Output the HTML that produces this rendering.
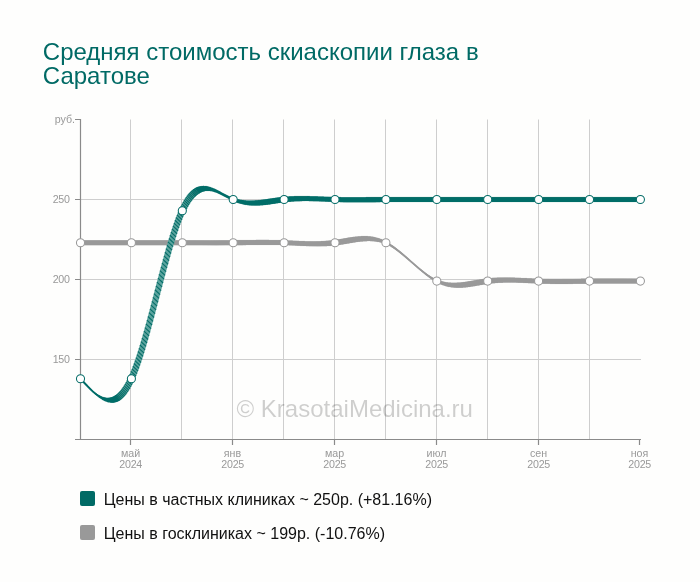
<!DOCTYPE html>
<html lang="ru"><head><meta charset="utf-8"><title>Средняя стоимость скиаскопии глаза в Саратове</title>
<style>
html,body{margin:0;padding:0;background:#fefefd;}
body{width:700px;height:582px;overflow:hidden;position:relative;font-family:"Liberation Sans",sans-serif;}
svg{position:absolute;left:0;top:0;display:block}
text{font-family:"Liberation Sans",sans-serif}
.t{font-size:24px;fill:#006a65}
.l{font-size:10.67px;fill:#999999}
.n{letter-spacing:-0.28px}
.lg{font-size:16px;fill:#111}
.wm{font-size:24px;fill:#000;fill-opacity:0.19}
</style></head><body>
<svg width="700" height="582" viewBox="0 0 700 582">
<defs><filter id="sf" x="0" y="0" width="700" height="582" filterUnits="userSpaceOnUse"><feGaussianBlur stdDeviation="0.3"/></filter></defs>
<rect width="700" height="582" fill="#fefefd"/>

<text class="t" x="42.8" y="59.6">Средняя стоимость скиаскопии глаза в</text>
<text class="t" x="42.8" y="83.6">Саратове</text>
<path d="M130.5,119.5V439.5M181.5,119.5V439.5M232.5,119.5V439.5M283.5,119.5V439.5M334.5,119.5V439.5M385.5,119.5V439.5M436.5,119.5V439.5M487.5,119.5V439.5M538.5,119.5V439.5M589.5,119.5V439.5M80.5,199.5H641.0M80.5,279.5H641.0M80.5,359.5H641.0" stroke="#cecece" stroke-width="1" fill="none"/>
<text class="wm" x="236.5" y="416.5">© KrasotaiMedicina.ru</text>
<path d="M80.5,119.0V440.0M75.0,439.5H641.0M75.0,119.5H80.5M75.0,199.5H80.5M75.0,279.5H80.5M75.0,359.5H80.5M130.5,439.5V445.0M232.5,439.5V445.0M334.5,439.5V445.0M436.5,439.5V445.0M538.5,439.5V445.0M639.5,439.5V445.0" stroke="#8a8a8a" stroke-width="1.2" fill="none"/>
<text class="l" x="75.1" y="123.4" text-anchor="end">руб.</text>
<text class="l n" x="69.6" y="203.3" text-anchor="end">250</text>
<text class="l n" x="69.6" y="283.3" text-anchor="end">200</text>
<text class="l n" x="69.6" y="363.3" text-anchor="end">150</text>
<text class="l" x="130.5" y="456.6" text-anchor="middle">май</text>
<text class="l n" x="130.65" y="468.2" text-anchor="middle">2024</text>
<text class="l" x="232.5" y="456.6" text-anchor="middle">янв</text>
<text class="l n" x="232.65" y="468.2" text-anchor="middle">2025</text>
<text class="l" x="334.5" y="456.6" text-anchor="middle">мар</text>
<text class="l n" x="334.65" y="468.2" text-anchor="middle">2025</text>
<text class="l" x="436.5" y="456.6" text-anchor="middle">июл</text>
<text class="l n" x="436.65" y="468.2" text-anchor="middle">2025</text>
<text class="l" x="538.5" y="456.6" text-anchor="middle">сен</text>
<text class="l n" x="538.65" y="468.2" text-anchor="middle">2025</text>
<text class="l" x="639.5" y="456.6" text-anchor="middle">ноя</text>
<text class="l n" x="639.65" y="468.2" text-anchor="middle">2025</text>
<g filter="url(#sf)">
<path d="M83.1,245.1C100.07,245.11 117.03,245.11 134,245.1C150.97,245.09 167.93,245.06 184.9,245.1C201.87,245.14 218.83,245.26 235.8,245.1C252.77,244.94 269.73,244.52 286.7,245.1C303.67,245.68 320.63,247.27 337.6,245.1C354.57,242.93 371.53,236.99 388.5,245.1C405.47,253.21 422.43,275.38 439.4,283.5C456.37,291.62 473.33,285.68 490.3,283.5C507.27,281.32 524.23,282.91 541.2,283.5C558.17,284.09 575.13,283.67 592.1,283.5C609.07,283.33 626.03,283.42 643,283.5L637.8,278.7C620.83,278.62 603.87,278.53 586.9,278.7C569.93,278.87 552.97,279.29 536,278.7C519.03,278.11 502.07,276.52 485.1,278.7C468.13,280.88 451.17,286.82 434.2,278.7C417.23,270.58 400.27,248.41 383.3,240.3C366.33,232.19 349.37,238.13 332.4,240.3C315.43,242.47 298.47,240.88 281.5,240.3C264.53,239.72 247.57,240.14 230.6,240.3C213.63,240.46 196.67,240.34 179.7,240.3C162.73,240.26 145.77,240.29 128.8,240.3C111.83,240.31 94.87,240.31 77.9,240.3Z" fill="#c4c4c4" fill-rule="nonzero"/>
<path d="M77.9,240.3l5.2,4.8M78.9,240.3l5.2,4.8M79.9,240.3l5.2,4.8M80.9,240.3l5.2,4.8M81.9,240.3l5.2,4.8M82.9,240.3l5.2,4.8M83.9,240.3l5.2,4.8M84.9,240.3l5.2,4.8M85.9,240.3l5.2,4.8M86.9,240.3l5.2,4.8M87.9,240.3l5.2,4.8M88.9,240.3l5.2,4.8M89.9,240.3l5.2,4.8M90.9,240.3l5.2,4.8M91.9,240.3l5.2,4.8M92.9,240.3l5.2,4.8M93.9,240.31l5.2,4.8M94.9,240.31l5.2,4.8M95.9,240.31l5.2,4.8M96.9,240.31l5.2,4.8M97.9,240.31l5.2,4.8M98.9,240.31l5.2,4.8M99.9,240.31l5.2,4.8M100.9,240.31l5.2,4.8M101.9,240.31l5.2,4.8M102.9,240.31l5.2,4.8M103.9,240.31l5.2,4.8M104.9,240.31l5.2,4.8M105.9,240.31l5.2,4.8M106.9,240.31l5.2,4.8M107.9,240.31l5.2,4.8M108.9,240.31l5.2,4.8M109.9,240.31l5.2,4.8M110.9,240.31l5.2,4.8M111.9,240.31l5.2,4.8M112.9,240.31l5.2,4.8M113.9,240.31l5.2,4.8M114.9,240.31l5.2,4.8M115.9,240.31l5.2,4.8M116.9,240.31l5.2,4.8M117.9,240.31l5.2,4.8M118.9,240.31l5.2,4.8M119.9,240.3l5.2,4.8M120.9,240.3l5.2,4.8M121.9,240.3l5.2,4.8M122.9,240.3l5.2,4.8M123.9,240.3l5.2,4.8M124.9,240.3l5.2,4.8M125.9,240.3l5.2,4.8M126.9,240.3l5.2,4.8M127.9,240.3l5.2,4.8M128.9,240.3l5.2,4.8M129.9,240.3l5.2,4.8M130.9,240.3l5.2,4.8M131.9,240.3l5.2,4.8M132.9,240.3l5.2,4.8M133.9,240.3l5.2,4.8M134.9,240.3l5.2,4.8M135.9,240.29l5.2,4.8M136.9,240.29l5.2,4.8M137.9,240.29l5.2,4.8M138.9,240.29l5.2,4.8M139.9,240.29l5.2,4.8M140.9,240.29l5.2,4.8M141.9,240.29l5.2,4.8M142.9,240.29l5.2,4.8M143.9,240.29l5.2,4.8M144.9,240.29l5.2,4.8M145.9,240.29l5.2,4.8M146.9,240.28l5.2,4.8M147.9,240.28l5.2,4.8M148.9,240.28l5.2,4.8M149.9,240.28l5.2,4.8M150.9,240.28l5.2,4.8M151.9,240.28l5.2,4.8M152.9,240.28l5.2,4.8M153.9,240.28l5.2,4.8M154.9,240.28l5.2,4.8M155.9,240.28l5.2,4.8M156.9,240.28l5.2,4.8M157.9,240.28l5.2,4.8M158.9,240.28l5.2,4.8M159.9,240.28l5.2,4.8M160.9,240.28l5.2,4.8M161.9,240.28l5.2,4.8M162.9,240.28l5.2,4.8M163.9,240.28l5.2,4.8M164.9,240.28l5.2,4.8M165.9,240.28l5.2,4.8M166.9,240.28l5.2,4.8M167.9,240.28l5.2,4.8M168.9,240.28l5.2,4.8M169.9,240.28l5.2,4.8M170.9,240.28l5.2,4.8M171.9,240.29l5.2,4.8M172.9,240.29l5.2,4.8M173.9,240.29l5.2,4.8M174.9,240.29l5.2,4.8M175.9,240.29l5.2,4.8M176.9,240.29l5.2,4.8M177.9,240.3l5.2,4.8M178.9,240.3l5.2,4.8M179.9,240.3l5.2,4.8M180.9,240.3l5.2,4.8M181.9,240.31l5.2,4.8M182.9,240.31l5.2,4.8M183.9,240.31l5.2,4.8M184.9,240.31l5.2,4.8M185.9,240.32l5.2,4.8M186.9,240.32l5.2,4.8M187.9,240.32l5.2,4.8M188.9,240.33l5.2,4.8M189.9,240.33l5.2,4.8M190.9,240.33l5.2,4.8M191.9,240.34l5.2,4.8M192.9,240.34l5.2,4.8M193.9,240.34l5.2,4.8M194.9,240.35l5.2,4.8M195.9,240.35l5.2,4.8M196.9,240.35l5.2,4.8M197.9,240.36l5.2,4.8M198.9,240.36l5.2,4.8M199.9,240.36l5.2,4.8M200.9,240.37l5.2,4.8M201.9,240.37l5.2,4.8M202.9,240.37l5.2,4.8M203.9,240.37l5.2,4.8M204.9,240.37l5.2,4.8M205.9,240.38l5.2,4.8M206.9,240.38l5.2,4.8M207.9,240.38l5.2,4.8M208.9,240.38l5.2,4.8M209.9,240.38l5.2,4.8M210.9,240.38l5.2,4.8M211.9,240.38l5.2,4.8M212.9,240.38l5.2,4.8M213.9,240.38l5.2,4.8M214.9,240.38l5.2,4.8M215.9,240.38l5.2,4.8M216.9,240.37l5.2,4.8M217.9,240.37l5.2,4.8M218.9,240.37l5.2,4.8M219.9,240.37l5.2,4.8M220.9,240.36l5.2,4.8M221.9,240.36l5.2,4.8M222.9,240.35l5.2,4.8M223.9,240.35l5.2,4.8M224.9,240.34l5.2,4.8M225.9,240.34l5.2,4.8M226.9,240.33l5.2,4.8M227.9,240.32l5.2,4.8M228.9,240.31l5.2,4.8M229.9,240.31l5.2,4.8M230.9,240.3l5.2,4.8M231.9,240.29l5.2,4.8M232.9,240.28l5.2,4.8M233.9,240.27l5.2,4.8M234.9,240.26l5.2,4.8M235.9,240.24l5.2,4.8M236.9,240.23l5.2,4.8M237.9,240.22l5.2,4.8M238.9,240.21l5.2,4.8M239.9,240.2l5.2,4.8M240.9,240.18l5.2,4.8M241.9,240.17l5.2,4.8M242.9,240.16l5.2,4.8M243.9,240.15l5.2,4.8M244.9,240.13l5.2,4.8M245.9,240.12l5.2,4.8M246.9,240.11l5.2,4.8M247.9,240.1l5.2,4.8M248.9,240.09l5.2,4.8M249.9,240.08l5.2,4.8M250.9,240.07l5.2,4.8M251.9,240.06l5.2,4.8M252.9,240.05l5.2,4.8M253.9,240.04l5.2,4.8M254.9,240.03l5.2,4.8M255.9,240.02l5.2,4.8M256.9,240.02l5.2,4.8M257.9,240.01l5.2,4.8M258.9,240.01l5.2,4.8M259.9,240.01l5.2,4.8M260.9,240l5.2,4.8M261.9,240l5.2,4.8M262.9,240l5.2,4.8M263.9,240l5.2,4.8M264.9,240.01l5.2,4.8M265.9,240.01l5.2,4.8M266.9,240.02l5.2,4.8M267.9,240.02l5.2,4.8M268.9,240.03l5.2,4.8M269.9,240.04l5.2,4.8M270.9,240.06l5.2,4.8M271.9,240.07l5.2,4.8M272.9,240.08l5.2,4.8M273.9,240.1l5.2,4.8M274.9,240.12l5.2,4.8M275.9,240.14l5.2,4.8M276.9,240.17l5.2,4.8M277.9,240.19l5.2,4.8M278.9,240.22l5.2,4.8M279.9,240.25l5.2,4.8M280.9,240.28l5.2,4.8M281.9,240.31l5.2,4.8M282.9,240.35l5.2,4.8M283.9,240.39l5.2,4.8M284.9,240.43l5.2,4.8M285.9,240.47l5.2,4.8M286.9,240.51l5.2,4.8M287.9,240.56l5.2,4.8M288.9,240.6l5.2,4.8M289.9,240.65l5.2,4.8M290.9,240.7l5.2,4.8M291.9,240.74l5.2,4.8M292.9,240.79l5.2,4.8M293.9,240.84l5.2,4.8M294.9,240.88l5.2,4.8M295.9,240.93l5.2,4.8M296.9,240.97l5.2,4.8M297.9,241.02l5.2,4.8M298.9,241.06l5.2,4.8M299.9,241.1l5.2,4.8M300.9,241.14l5.2,4.8M301.9,241.18l5.2,4.8M302.9,241.22l5.2,4.8M303.9,241.25l5.2,4.8M304.9,241.28l5.2,4.8M305.9,241.31l5.2,4.8M306.9,241.33l5.2,4.8M307.9,241.35l5.2,4.8M308.9,241.37l5.2,4.8M309.9,241.39l5.2,4.8M310.9,241.4l5.2,4.8M311.9,241.41l5.2,4.8M312.9,241.41l5.2,4.8M313.9,241.41l5.2,4.8M314.9,241.4l5.2,4.8M315.9,241.39l5.2,4.8M316.9,241.37l5.2,4.8M317.9,241.35l5.2,4.8M318.9,241.32l5.2,4.8M319.9,241.29l5.2,4.8M320.9,241.25l5.2,4.8M321.9,241.21l5.2,4.8M322.9,241.15l5.2,4.8M323.9,241.1l5.2,4.8M324.9,241.03l5.2,4.8M325.9,240.96l5.2,4.8M326.9,240.88l5.2,4.8M327.9,240.79l5.2,4.8M328.9,240.7l5.2,4.8M329.9,240.59l5.2,4.8M330.9,240.48l5.2,4.8M331.9,240.36l5.2,4.8M332.9,240.23l5.2,4.8M333.9,240.1l5.2,4.8M334.9,239.95l5.2,4.8M335.9,239.8l5.2,4.8M336.9,239.65l5.2,4.8M337.9,239.49l5.2,4.8M338.9,239.32l5.2,4.8M339.9,239.15l5.2,4.8M340.9,238.98l5.2,4.8M341.9,238.8l5.2,4.8M342.9,238.63l5.2,4.8M343.9,238.46l5.2,4.8M344.9,238.28l5.2,4.8M345.9,238.11l5.2,4.8M346.9,237.94l5.2,4.8M347.9,237.77l5.2,4.8M348.9,237.61l5.2,4.8M349.9,237.45l5.2,4.8M350.9,237.29l5.2,4.8M351.9,237.14l5.2,4.8M352.9,237l5.2,4.8M353.9,236.87l5.2,4.8M354.9,236.75l5.2,4.8M355.9,236.63l5.2,4.8M356.9,236.53l5.2,4.8M357.9,236.44l5.2,4.8M358.9,236.36l5.2,4.8M359.9,236.29l5.2,4.8M360.9,236.23l5.2,4.8M361.9,236.19l5.2,4.8M362.9,236.17l5.2,4.8M363.9,236.16l5.2,4.8M364.9,236.17l5.2,4.8M365.9,236.19l5.2,4.8M366.9,236.24l5.2,4.8M367.9,236.3l5.2,4.8M368.9,236.38l5.2,4.8M369.9,236.49l5.2,4.8M370.9,236.61l5.2,4.8M371.9,236.76l5.2,4.8M372.9,236.93l5.2,4.8M373.9,237.13l5.2,4.8M374.9,237.35l5.2,4.8M375.9,237.6l5.2,4.8M376.9,237.87l5.2,4.8M377.9,238.17l5.2,4.8M378.9,238.5l5.2,4.8M379.9,238.86l5.2,4.8M380.9,239.24l5.2,4.8M381.9,239.66l5.2,4.8M382.9,240.11l5.2,4.8M383.9,240.59l5.2,4.8M384.9,241.11l5.2,4.8M385.9,241.65l5.2,4.8M386.9,242.22l5.2,4.8M387.9,242.82l5.2,4.8M388.9,243.45l5.2,4.8M389.9,244.1l5.2,4.8M390.9,244.78l5.2,4.8M391.9,245.48l5.2,4.8M392.9,246.2l5.2,4.8M393.9,246.94l5.2,4.8M394.9,247.71l5.2,4.8M395.9,248.48l5.2,4.8M396.9,249.28l5.2,4.8M397.9,250.09l5.2,4.8M398.9,250.91l5.2,4.8M399.9,251.75l5.2,4.8M400.9,252.6l5.2,4.8M401.9,253.45l5.2,4.8M402.9,254.32l5.2,4.8M403.9,255.2l5.2,4.8M404.9,256.08l5.2,4.8M405.9,256.96l5.2,4.8M406.9,257.85l5.2,4.8M407.9,258.74l5.2,4.8M408.9,259.63l5.2,4.8M409.9,260.53l5.2,4.8M410.9,261.42l5.2,4.8M411.9,262.3l5.2,4.8M412.9,263.19l5.2,4.8M413.9,264.07l5.2,4.8M414.9,264.94l5.2,4.8M415.9,265.8l5.2,4.8M416.9,266.66l5.2,4.8M417.9,267.5l5.2,4.8M418.9,268.34l5.2,4.8M419.9,269.16l5.2,4.8M420.9,269.96l5.2,4.8M421.9,270.75l5.2,4.8M422.9,271.52l5.2,4.8M423.9,272.28l5.2,4.8M424.9,273.02l5.2,4.8M425.9,273.73l5.2,4.8M426.9,274.42l5.2,4.8M427.9,275.09l5.2,4.8M428.9,275.74l5.2,4.8M429.9,276.36l5.2,4.8M430.9,276.95l5.2,4.8M431.9,277.52l5.2,4.8M432.9,278.05l5.2,4.8M433.9,278.56l5.2,4.8M434.9,279.03l5.2,4.8M435.9,279.47l5.2,4.8M436.9,279.88l5.2,4.8M437.9,280.25l5.2,4.8M438.9,280.6l5.2,4.8M439.9,280.92l5.2,4.8M440.9,281.21l5.2,4.8M441.9,281.48l5.2,4.8M442.9,281.72l5.2,4.8M443.9,281.93l5.2,4.8M444.9,282.12l5.2,4.8M445.9,282.28l5.2,4.8M446.9,282.43l5.2,4.8M447.9,282.55l5.2,4.8M448.9,282.64l5.2,4.8M449.9,282.72l5.2,4.8M450.9,282.78l5.2,4.8M451.9,282.82l5.2,4.8M452.9,282.84l5.2,4.8M453.9,282.84l5.2,4.8M454.9,282.83l5.2,4.8M455.9,282.8l5.2,4.8M456.9,282.75l5.2,4.8M457.9,282.69l5.2,4.8M458.9,282.62l5.2,4.8M459.9,282.54l5.2,4.8M460.9,282.44l5.2,4.8M461.9,282.33l5.2,4.8M462.9,282.22l5.2,4.8M463.9,282.09l5.2,4.8M464.9,281.95l5.2,4.8M465.9,281.81l5.2,4.8M466.9,281.66l5.2,4.8M467.9,281.51l5.2,4.8M468.9,281.35l5.2,4.8M469.9,281.18l5.2,4.8M470.9,281.01l5.2,4.8M471.9,280.84l5.2,4.8M472.9,280.67l5.2,4.8M473.9,280.49l5.2,4.8M474.9,280.32l5.2,4.8M475.9,280.14l5.2,4.8M476.9,279.97l5.2,4.8M477.9,279.8l5.2,4.8M478.9,279.63l5.2,4.8M479.9,279.47l5.2,4.8M480.9,279.31l5.2,4.8M481.9,279.15l5.2,4.8M482.9,279l5.2,4.8M483.9,278.86l5.2,4.8M484.9,278.73l5.2,4.8M485.9,278.6l5.2,4.8M486.9,278.48l5.2,4.8M487.9,278.37l5.2,4.8M488.9,278.27l5.2,4.8M489.9,278.18l5.2,4.8M490.9,278.1l5.2,4.8M491.9,278.02l5.2,4.8M492.9,277.95l5.2,4.8M493.9,277.88l5.2,4.8M494.9,277.83l5.2,4.8M495.9,277.78l5.2,4.8M496.9,277.73l5.2,4.8M497.9,277.7l5.2,4.8M498.9,277.67l5.2,4.8M499.9,277.64l5.2,4.8M500.9,277.62l5.2,4.8M501.9,277.61l5.2,4.8M502.9,277.6l5.2,4.8M503.9,277.59l5.2,4.8M504.9,277.59l5.2,4.8M505.9,277.59l5.2,4.8M506.9,277.6l5.2,4.8M507.9,277.61l5.2,4.8M508.9,277.63l5.2,4.8M509.9,277.65l5.2,4.8M510.9,277.67l5.2,4.8M511.9,277.7l5.2,4.8M512.9,277.73l5.2,4.8M513.9,277.76l5.2,4.8M514.9,277.79l5.2,4.8M515.9,277.83l5.2,4.8M516.9,277.87l5.2,4.8M517.9,277.91l5.2,4.8M518.9,277.95l5.2,4.8M519.9,277.99l5.2,4.8M520.9,278.04l5.2,4.8M521.9,278.08l5.2,4.8M522.9,278.13l5.2,4.8M523.9,278.18l5.2,4.8M524.9,278.22l5.2,4.8M525.9,278.27l5.2,4.8M526.9,278.32l5.2,4.8M527.9,278.36l5.2,4.8M528.9,278.41l5.2,4.8M529.9,278.45l5.2,4.8M530.9,278.5l5.2,4.8M531.9,278.54l5.2,4.8M532.9,278.58l5.2,4.8M533.9,278.62l5.2,4.8M534.9,278.66l5.2,4.8M535.9,278.7l5.2,4.8M536.9,278.73l5.2,4.8M537.9,278.76l5.2,4.8M538.9,278.79l5.2,4.8M539.9,278.82l5.2,4.8M540.9,278.84l5.2,4.8M541.9,278.87l5.2,4.8M542.9,278.89l5.2,4.8M543.9,278.9l5.2,4.8M544.9,278.92l5.2,4.8M545.9,278.94l5.2,4.8M546.9,278.95l5.2,4.8M547.9,278.96l5.2,4.8M548.9,278.97l5.2,4.8M549.9,278.98l5.2,4.8M550.9,278.99l5.2,4.8M551.9,278.99l5.2,4.8M552.9,279l5.2,4.8M553.9,279l5.2,4.8M554.9,279l5.2,4.8M555.9,279l5.2,4.8M556.9,279l5.2,4.8M557.9,279l5.2,4.8M558.9,279l5.2,4.8M559.9,278.99l5.2,4.8M560.9,278.99l5.2,4.8M561.9,278.98l5.2,4.8M562.9,278.97l5.2,4.8M563.9,278.96l5.2,4.8M564.9,278.96l5.2,4.8M565.9,278.95l5.2,4.8M566.9,278.94l5.2,4.8M567.9,278.93l5.2,4.8M568.9,278.92l5.2,4.8M569.9,278.9l5.2,4.8M570.9,278.89l5.2,4.8M571.9,278.88l5.2,4.8M572.9,278.87l5.2,4.8M573.9,278.86l5.2,4.8M574.9,278.84l5.2,4.8M575.9,278.83l5.2,4.8M576.9,278.82l5.2,4.8M577.9,278.81l5.2,4.8M578.9,278.79l5.2,4.8M579.9,278.78l5.2,4.8M580.9,278.77l5.2,4.8M581.9,278.76l5.2,4.8M582.9,278.74l5.2,4.8M583.9,278.73l5.2,4.8M584.9,278.72l5.2,4.8M585.9,278.71l5.2,4.8M586.9,278.7l5.2,4.8M587.9,278.69l5.2,4.8M588.9,278.68l5.2,4.8M589.9,278.67l5.2,4.8M590.9,278.67l5.2,4.8M591.9,278.66l5.2,4.8M592.9,278.65l5.2,4.8M593.9,278.64l5.2,4.8M594.9,278.64l5.2,4.8M595.9,278.63l5.2,4.8M596.9,278.63l5.2,4.8M597.9,278.62l5.2,4.8M598.9,278.62l5.2,4.8M599.9,278.62l5.2,4.8M600.9,278.61l5.2,4.8M601.9,278.61l5.2,4.8M602.9,278.61l5.2,4.8M603.9,278.61l5.2,4.8M604.9,278.61l5.2,4.8M605.9,278.6l5.2,4.8M606.9,278.6l5.2,4.8M607.9,278.6l5.2,4.8M608.9,278.6l5.2,4.8M609.9,278.6l5.2,4.8M610.9,278.6l5.2,4.8M611.9,278.61l5.2,4.8M612.9,278.61l5.2,4.8M613.9,278.61l5.2,4.8M614.9,278.61l5.2,4.8M615.9,278.61l5.2,4.8M616.9,278.61l5.2,4.8M617.9,278.62l5.2,4.8M618.9,278.62l5.2,4.8M619.9,278.62l5.2,4.8M620.9,278.63l5.2,4.8M621.9,278.63l5.2,4.8M622.9,278.63l5.2,4.8M623.9,278.64l5.2,4.8M624.9,278.64l5.2,4.8M625.9,278.64l5.2,4.8M626.9,278.65l5.2,4.8M627.9,278.65l5.2,4.8M628.9,278.66l5.2,4.8M629.9,278.66l5.2,4.8M630.9,278.67l5.2,4.8M631.9,278.67l5.2,4.8M632.9,278.68l5.2,4.8M633.9,278.68l5.2,4.8M634.9,278.69l5.2,4.8M635.9,278.69l5.2,4.8M636.9,278.7l5.2,4.8" stroke="#999999" stroke-width="1.1" fill="none"/>
<path d="M385.9,242.7C402.87,250.81 419.83,272.98 436.8,281.1" stroke="#999999" stroke-width="1.9" fill="none"/>
</g>
<circle cx="80.5" cy="242.7" r="4.05" fill="#ffffff" stroke="#999999" stroke-width="1.05"/>
<circle cx="131.4" cy="242.7" r="4.05" fill="#ffffff" stroke="#999999" stroke-width="1.05"/>
<circle cx="182.3" cy="242.7" r="4.05" fill="#ffffff" stroke="#999999" stroke-width="1.05"/>
<circle cx="233.2" cy="242.7" r="4.05" fill="#ffffff" stroke="#999999" stroke-width="1.05"/>
<circle cx="284.1" cy="242.7" r="4.05" fill="#ffffff" stroke="#999999" stroke-width="1.05"/>
<circle cx="335" cy="242.7" r="4.05" fill="#ffffff" stroke="#999999" stroke-width="1.05"/>
<circle cx="385.9" cy="242.7" r="4.05" fill="#ffffff" stroke="#999999" stroke-width="1.05"/>
<circle cx="436.8" cy="281.1" r="4.05" fill="#ffffff" stroke="#999999" stroke-width="1.05"/>
<circle cx="487.7" cy="281.1" r="4.05" fill="#ffffff" stroke="#999999" stroke-width="1.05"/>
<circle cx="538.6" cy="281.1" r="4.05" fill="#ffffff" stroke="#999999" stroke-width="1.05"/>
<circle cx="589.5" cy="281.1" r="4.05" fill="#ffffff" stroke="#999999" stroke-width="1.05"/>
<circle cx="640.4" cy="281.1" r="4.05" fill="#ffffff" stroke="#999999" stroke-width="1.05"/>
<g filter="url(#sf)">
<path d="M83.1,381.1C100.07,399.79 117.03,418.47 134,381.1C150.97,343.73 167.93,250.3 184.9,213.1C201.87,175.9 218.83,194.93 235.8,201.9C252.77,208.87 269.73,203.77 286.7,201.9C303.67,200.03 320.63,201.4 337.6,201.9C354.57,202.4 371.53,202.03 388.5,201.9C405.47,201.77 422.43,201.86 439.4,201.9C456.37,201.94 473.33,201.91 490.3,201.9C507.27,201.89 524.23,201.9 541.2,201.9C558.17,201.9 575.13,201.9 592.1,201.9C609.07,201.9 626.03,201.9 643,201.9L637.8,197.1C620.83,197.1 603.87,197.1 586.9,197.1C569.93,197.1 552.97,197.1 536,197.1C519.03,197.1 502.07,197.09 485.1,197.1C468.13,197.11 451.17,197.14 434.2,197.1C417.23,197.06 400.27,196.97 383.3,197.1C366.33,197.23 349.37,197.6 332.4,197.1C315.43,196.6 298.47,195.23 281.5,197.1C264.53,198.97 247.57,204.07 230.6,197.1C213.63,190.13 196.67,171.1 179.7,208.3C162.73,245.5 145.77,338.93 128.8,376.3C111.83,413.67 94.87,394.99 77.9,376.3Z" fill="#5ca49e" fill-rule="nonzero"/>
<path d="M77.9,376.3l5.2,4.8M78.9,377.4l5.2,4.8M79.9,378.5l5.2,4.8M80.9,379.59l5.2,4.8M81.9,380.68l5.2,4.8M82.9,381.75l5.2,4.8M83.9,382.82l5.2,4.8M84.9,383.86l5.2,4.8M85.9,384.89l5.2,4.8M86.9,385.9l5.2,4.8M87.9,386.89l5.2,4.8M88.9,387.85l5.2,4.8M89.9,388.78l5.2,4.8M90.9,389.68l5.2,4.8M91.9,390.55l5.2,4.8M92.9,391.39l5.2,4.8M93.9,392.18l5.2,4.8M94.9,392.93l5.2,4.8M95.9,393.64l5.2,4.8M96.9,394.31l5.2,4.8M97.9,394.93l5.2,4.8M98.9,395.49l5.2,4.8M99.9,396l5.2,4.8M100.9,396.46l5.2,4.8M101.9,396.86l5.2,4.8M102.9,397.19l5.2,4.8M103.9,397.46l5.2,4.8M104.9,397.67l5.2,4.8M105.9,397.81l5.2,4.8M106.9,397.87l5.2,4.8M107.9,397.86l5.2,4.8M108.9,397.78l5.2,4.8M109.9,397.61l5.2,4.8M110.9,397.37l5.2,4.8M111.9,397.04l5.2,4.8M112.9,396.62l5.2,4.8M113.9,396.11l5.2,4.8M114.9,395.52l5.2,4.8M115.9,394.82l5.2,4.8M116.9,394.04l5.2,4.8M117.9,393.15l5.2,4.8M118.9,392.16l5.2,4.8M119.9,391.06l5.2,4.8M120.9,389.86l5.2,4.8M121.9,388.55l5.2,4.8M122.9,387.12l5.2,4.8M123.9,385.58l5.2,4.8M124.9,383.93l5.2,4.8M125.9,382.15l5.2,4.8M126.9,380.25l5.2,4.8M127.9,378.23l5.2,4.8M128.9,376.08l5.2,4.8M129.9,373.8l5.2,4.8M130.9,371.4l5.2,4.8M131.9,368.87l5.2,4.8M132.9,366.24l5.2,4.8M133.9,363.49l5.2,4.8M134.9,360.64l5.2,4.8M135.9,357.69l5.2,4.8M136.9,354.65l5.2,4.8M137.9,351.52l5.2,4.8M138.9,348.31l5.2,4.8M139.9,345.02l5.2,4.8M140.9,341.65l5.2,4.8M141.9,338.22l5.2,4.8M142.9,334.72l5.2,4.8M143.9,331.17l5.2,4.8M144.9,327.56l5.2,4.8M145.9,323.91l5.2,4.8M146.9,320.22l5.2,4.8M147.9,316.48l5.2,4.8M148.9,312.72l5.2,4.8M149.9,308.92l5.2,4.8M150.9,305.11l5.2,4.8M151.9,301.28l5.2,4.8M152.9,297.43l5.2,4.8M153.9,293.58l5.2,4.8M154.9,289.73l5.2,4.8M155.9,285.88l5.2,4.8M156.9,282.04l5.2,4.8M157.9,278.22l5.2,4.8M158.9,274.41l5.2,4.8M159.9,270.63l5.2,4.8M160.9,266.87l5.2,4.8M161.9,263.15l5.2,4.8M162.9,259.47l5.2,4.8M163.9,255.84l5.2,4.8M164.9,252.25l5.2,4.8M165.9,248.72l5.2,4.8M166.9,245.25l5.2,4.8M167.9,241.84l5.2,4.8M168.9,238.5l5.2,4.8M169.9,235.24l5.2,4.8M170.9,232.06l5.2,4.8M171.9,228.96l5.2,4.8M172.9,225.95l5.2,4.8M173.9,223.04l5.2,4.8M174.9,220.23l5.2,4.8M175.9,217.52l5.2,4.8M176.9,214.93l5.2,4.8M177.9,212.45l5.2,4.8M178.9,210.1l5.2,4.8M179.9,207.86l5.2,4.8M180.9,205.76l5.2,4.8M181.9,203.79l5.2,4.8M182.9,201.93l5.2,4.8M183.9,200.2l5.2,4.8M184.9,198.59l5.2,4.8M185.9,197.09l5.2,4.8M186.9,195.7l5.2,4.8M187.9,194.41l5.2,4.8M188.9,193.24l5.2,4.8M189.9,192.16l5.2,4.8M190.9,191.18l5.2,4.8M191.9,190.3l5.2,4.8M192.9,189.51l5.2,4.8M193.9,188.81l5.2,4.8M194.9,188.2l5.2,4.8M195.9,187.67l5.2,4.8M196.9,187.22l5.2,4.8M197.9,186.84l5.2,4.8M198.9,186.54l5.2,4.8M199.9,186.31l5.2,4.8M200.9,186.15l5.2,4.8M201.9,186.05l5.2,4.8M202.9,186.01l5.2,4.8M203.9,186.03l5.2,4.8M204.9,186.11l5.2,4.8M205.9,186.24l5.2,4.8M206.9,186.42l5.2,4.8M207.9,186.64l5.2,4.8M208.9,186.9l5.2,4.8M209.9,187.21l5.2,4.8M210.9,187.55l5.2,4.8M211.9,187.92l5.2,4.8M212.9,188.33l5.2,4.8M213.9,188.76l5.2,4.8M214.9,189.21l5.2,4.8M215.9,189.69l5.2,4.8M216.9,190.18l5.2,4.8M217.9,190.69l5.2,4.8M218.9,191.21l5.2,4.8M219.9,191.74l5.2,4.8M220.9,192.28l5.2,4.8M221.9,192.81l5.2,4.8M222.9,193.35l5.2,4.8M223.9,193.88l5.2,4.8M224.9,194.4l5.2,4.8M225.9,194.92l5.2,4.8M226.9,195.42l5.2,4.8M227.9,195.9l5.2,4.8M228.9,196.36l5.2,4.8M229.9,196.81l5.2,4.8M230.9,197.22l5.2,4.8M231.9,197.61l5.2,4.8M232.9,197.97l5.2,4.8M233.9,198.31l5.2,4.8M234.9,198.62l5.2,4.8M235.9,198.9l5.2,4.8M236.9,199.16l5.2,4.8M237.9,199.4l5.2,4.8M238.9,199.61l5.2,4.8M239.9,199.8l5.2,4.8M240.9,199.97l5.2,4.8M241.9,200.12l5.2,4.8M242.9,200.25l5.2,4.8M243.9,200.36l5.2,4.8M244.9,200.45l5.2,4.8M245.9,200.53l5.2,4.8M246.9,200.58l5.2,4.8M247.9,200.62l5.2,4.8M248.9,200.65l5.2,4.8M249.9,200.65l5.2,4.8M250.9,200.65l5.2,4.8M251.9,200.63l5.2,4.8M252.9,200.59l5.2,4.8M253.9,200.55l5.2,4.8M254.9,200.49l5.2,4.8M255.9,200.42l5.2,4.8M256.9,200.34l5.2,4.8M257.9,200.26l5.2,4.8M258.9,200.16l5.2,4.8M259.9,200.05l5.2,4.8M260.9,199.94l5.2,4.8M261.9,199.82l5.2,4.8M262.9,199.69l5.2,4.8M263.9,199.56l5.2,4.8M264.9,199.43l5.2,4.8M265.9,199.29l5.2,4.8M266.9,199.14l5.2,4.8M267.9,199l5.2,4.8M268.9,198.85l5.2,4.8M269.9,198.7l5.2,4.8M270.9,198.55l5.2,4.8M271.9,198.4l5.2,4.8M272.9,198.25l5.2,4.8M273.9,198.1l5.2,4.8M274.9,197.96l5.2,4.8M275.9,197.81l5.2,4.8M276.9,197.67l5.2,4.8M277.9,197.54l5.2,4.8M278.9,197.41l5.2,4.8M279.9,197.29l5.2,4.8M280.9,197.17l5.2,4.8M281.9,197.06l5.2,4.8M282.9,196.95l5.2,4.8M283.9,196.86l5.2,4.8M284.9,196.77l5.2,4.8M285.9,196.69l5.2,4.8M286.9,196.61l5.2,4.8M287.9,196.54l5.2,4.8M288.9,196.48l5.2,4.8M289.9,196.42l5.2,4.8M290.9,196.37l5.2,4.8M291.9,196.33l5.2,4.8M292.9,196.29l5.2,4.8M293.9,196.25l5.2,4.8M294.9,196.22l5.2,4.8M295.9,196.2l5.2,4.8M296.9,196.18l5.2,4.8M297.9,196.17l5.2,4.8M298.9,196.16l5.2,4.8M299.9,196.15l5.2,4.8M300.9,196.15l5.2,4.8M301.9,196.15l5.2,4.8M302.9,196.16l5.2,4.8M303.9,196.16l5.2,4.8M304.9,196.18l5.2,4.8M305.9,196.19l5.2,4.8M306.9,196.21l5.2,4.8M307.9,196.23l5.2,4.8M308.9,196.26l5.2,4.8M309.9,196.28l5.2,4.8M310.9,196.31l5.2,4.8M311.9,196.34l5.2,4.8M312.9,196.37l5.2,4.8M313.9,196.41l5.2,4.8M314.9,196.44l5.2,4.8M315.9,196.48l5.2,4.8M316.9,196.52l5.2,4.8M317.9,196.56l5.2,4.8M318.9,196.6l5.2,4.8M319.9,196.64l5.2,4.8M320.9,196.68l5.2,4.8M321.9,196.72l5.2,4.8M322.9,196.76l5.2,4.8M323.9,196.8l5.2,4.8M324.9,196.84l5.2,4.8M325.9,196.87l5.2,4.8M326.9,196.91l5.2,4.8M327.9,196.95l5.2,4.8M328.9,196.99l5.2,4.8M329.9,197.02l5.2,4.8M330.9,197.05l5.2,4.8M331.9,197.09l5.2,4.8M332.9,197.11l5.2,4.8M333.9,197.14l5.2,4.8M334.9,197.17l5.2,4.8M335.9,197.19l5.2,4.8M336.9,197.21l5.2,4.8M337.9,197.23l5.2,4.8M338.9,197.25l5.2,4.8M339.9,197.27l5.2,4.8M340.9,197.28l5.2,4.8M341.9,197.3l5.2,4.8M342.9,197.31l5.2,4.8M343.9,197.32l5.2,4.8M344.9,197.33l5.2,4.8M345.9,197.34l5.2,4.8M346.9,197.34l5.2,4.8M347.9,197.35l5.2,4.8M348.9,197.35l5.2,4.8M349.9,197.35l5.2,4.8M350.9,197.35l5.2,4.8M351.9,197.36l5.2,4.8M352.9,197.35l5.2,4.8M353.9,197.35l5.2,4.8M354.9,197.35l5.2,4.8M355.9,197.35l5.2,4.8M356.9,197.34l5.2,4.8M357.9,197.34l5.2,4.8M358.9,197.33l5.2,4.8M359.9,197.33l5.2,4.8M360.9,197.32l5.2,4.8M361.9,197.31l5.2,4.8M362.9,197.3l5.2,4.8M363.9,197.29l5.2,4.8M364.9,197.28l5.2,4.8M365.9,197.27l5.2,4.8M366.9,197.27l5.2,4.8M367.9,197.25l5.2,4.8M368.9,197.24l5.2,4.8M369.9,197.23l5.2,4.8M370.9,197.22l5.2,4.8M371.9,197.21l5.2,4.8M372.9,197.2l5.2,4.8M373.9,197.19l5.2,4.8M374.9,197.18l5.2,4.8M375.9,197.17l5.2,4.8M376.9,197.16l5.2,4.8M377.9,197.15l5.2,4.8M378.9,197.14l5.2,4.8M379.9,197.13l5.2,4.8M380.9,197.12l5.2,4.8M381.9,197.11l5.2,4.8M382.9,197.1l5.2,4.8M383.9,197.1l5.2,4.8M384.9,197.09l5.2,4.8M385.9,197.08l5.2,4.8M386.9,197.07l5.2,4.8M387.9,197.07l5.2,4.8M388.9,197.06l5.2,4.8M389.9,197.06l5.2,4.8M390.9,197.05l5.2,4.8M391.9,197.05l5.2,4.8M392.9,197.05l5.2,4.8M393.9,197.04l5.2,4.8M394.9,197.04l5.2,4.8M395.9,197.04l5.2,4.8M396.9,197.04l5.2,4.8M397.9,197.04l5.2,4.8M398.9,197.03l5.2,4.8M399.9,197.03l5.2,4.8M400.9,197.03l5.2,4.8M401.9,197.03l5.2,4.8M402.9,197.03l5.2,4.8M403.9,197.03l5.2,4.8M404.9,197.03l5.2,4.8M405.9,197.03l5.2,4.8M406.9,197.03l5.2,4.8M407.9,197.04l5.2,4.8M408.9,197.04l5.2,4.8M409.9,197.04l5.2,4.8M410.9,197.04l5.2,4.8M411.9,197.04l5.2,4.8M412.9,197.04l5.2,4.8M413.9,197.05l5.2,4.8M414.9,197.05l5.2,4.8M415.9,197.05l5.2,4.8M416.9,197.05l5.2,4.8M417.9,197.06l5.2,4.8M418.9,197.06l5.2,4.8M419.9,197.06l5.2,4.8M420.9,197.06l5.2,4.8M421.9,197.07l5.2,4.8M422.9,197.07l5.2,4.8M423.9,197.07l5.2,4.8M424.9,197.08l5.2,4.8M425.9,197.08l5.2,4.8M426.9,197.08l5.2,4.8M427.9,197.08l5.2,4.8M428.9,197.09l5.2,4.8M429.9,197.09l5.2,4.8M430.9,197.09l5.2,4.8M431.9,197.09l5.2,4.8M432.9,197.1l5.2,4.8M433.9,197.1l5.2,4.8M434.9,197.1l5.2,4.8M435.9,197.1l5.2,4.8M436.9,197.11l5.2,4.8M437.9,197.11l5.2,4.8M438.9,197.11l5.2,4.8M439.9,197.11l5.2,4.8M440.9,197.11l5.2,4.8M441.9,197.11l5.2,4.8M442.9,197.11l5.2,4.8M443.9,197.11l5.2,4.8M444.9,197.12l5.2,4.8M445.9,197.12l5.2,4.8M446.9,197.12l5.2,4.8M447.9,197.12l5.2,4.8M448.9,197.12l5.2,4.8M449.9,197.12l5.2,4.8M450.9,197.12l5.2,4.8M451.9,197.12l5.2,4.8M452.9,197.12l5.2,4.8M453.9,197.12l5.2,4.8M454.9,197.12l5.2,4.8M455.9,197.12l5.2,4.8M456.9,197.12l5.2,4.8M457.9,197.12l5.2,4.8M458.9,197.12l5.2,4.8M459.9,197.12l5.2,4.8M460.9,197.12l5.2,4.8M461.9,197.12l5.2,4.8M462.9,197.12l5.2,4.8M463.9,197.11l5.2,4.8M464.9,197.11l5.2,4.8M465.9,197.11l5.2,4.8M466.9,197.11l5.2,4.8M467.9,197.11l5.2,4.8M468.9,197.11l5.2,4.8M469.9,197.11l5.2,4.8M470.9,197.11l5.2,4.8M471.9,197.11l5.2,4.8M472.9,197.11l5.2,4.8M473.9,197.11l5.2,4.8M474.9,197.11l5.2,4.8M475.9,197.11l5.2,4.8M476.9,197.11l5.2,4.8M477.9,197.1l5.2,4.8M478.9,197.1l5.2,4.8M479.9,197.1l5.2,4.8M480.9,197.1l5.2,4.8M481.9,197.1l5.2,4.8M482.9,197.1l5.2,4.8M483.9,197.1l5.2,4.8M484.9,197.1l5.2,4.8M485.9,197.1l5.2,4.8M486.9,197.1l5.2,4.8M487.9,197.1l5.2,4.8M488.9,197.1l5.2,4.8M489.9,197.1l5.2,4.8M490.9,197.1l5.2,4.8M491.9,197.1l5.2,4.8M492.9,197.1l5.2,4.8M493.9,197.1l5.2,4.8M494.9,197.1l5.2,4.8M495.9,197.1l5.2,4.8M496.9,197.1l5.2,4.8M497.9,197.1l5.2,4.8M498.9,197.1l5.2,4.8M499.9,197.1l5.2,4.8M500.9,197.1l5.2,4.8M501.9,197.1l5.2,4.8M502.9,197.1l5.2,4.8M503.9,197.1l5.2,4.8M504.9,197.1l5.2,4.8M505.9,197.1l5.2,4.8M506.9,197.1l5.2,4.8M507.9,197.1l5.2,4.8M508.9,197.1l5.2,4.8M509.9,197.1l5.2,4.8M510.9,197.1l5.2,4.8M511.9,197.1l5.2,4.8M512.9,197.1l5.2,4.8M513.9,197.1l5.2,4.8M514.9,197.1l5.2,4.8M515.9,197.1l5.2,4.8M516.9,197.1l5.2,4.8M517.9,197.1l5.2,4.8M518.9,197.1l5.2,4.8M519.9,197.1l5.2,4.8M520.9,197.1l5.2,4.8M521.9,197.1l5.2,4.8M522.9,197.1l5.2,4.8M523.9,197.1l5.2,4.8M524.9,197.1l5.2,4.8M525.9,197.1l5.2,4.8M526.9,197.1l5.2,4.8M527.9,197.1l5.2,4.8M528.9,197.1l5.2,4.8M529.9,197.1l5.2,4.8M530.9,197.1l5.2,4.8M531.9,197.1l5.2,4.8M532.9,197.1l5.2,4.8M533.9,197.1l5.2,4.8M534.9,197.1l5.2,4.8M535.9,197.1l5.2,4.8M536.9,197.1l5.2,4.8M537.9,197.1l5.2,4.8M538.9,197.1l5.2,4.8M539.9,197.1l5.2,4.8M540.9,197.1l5.2,4.8M541.9,197.1l5.2,4.8M542.9,197.1l5.2,4.8M543.9,197.1l5.2,4.8M544.9,197.1l5.2,4.8M545.9,197.1l5.2,4.8M546.9,197.1l5.2,4.8M547.9,197.1l5.2,4.8M548.9,197.1l5.2,4.8M549.9,197.1l5.2,4.8M550.9,197.1l5.2,4.8M551.9,197.1l5.2,4.8M552.9,197.1l5.2,4.8M553.9,197.1l5.2,4.8M554.9,197.1l5.2,4.8M555.9,197.1l5.2,4.8M556.9,197.1l5.2,4.8M557.9,197.1l5.2,4.8M558.9,197.1l5.2,4.8M559.9,197.1l5.2,4.8M560.9,197.1l5.2,4.8M561.9,197.1l5.2,4.8M562.9,197.1l5.2,4.8M563.9,197.1l5.2,4.8M564.9,197.1l5.2,4.8M565.9,197.1l5.2,4.8M566.9,197.1l5.2,4.8M567.9,197.1l5.2,4.8M568.9,197.1l5.2,4.8M569.9,197.1l5.2,4.8M570.9,197.1l5.2,4.8M571.9,197.1l5.2,4.8M572.9,197.1l5.2,4.8M573.9,197.1l5.2,4.8M574.9,197.1l5.2,4.8M575.9,197.1l5.2,4.8M576.9,197.1l5.2,4.8M577.9,197.1l5.2,4.8M578.9,197.1l5.2,4.8M579.9,197.1l5.2,4.8M580.9,197.1l5.2,4.8M581.9,197.1l5.2,4.8M582.9,197.1l5.2,4.8M583.9,197.1l5.2,4.8M584.9,197.1l5.2,4.8M585.9,197.1l5.2,4.8M586.9,197.1l5.2,4.8M587.9,197.1l5.2,4.8M588.9,197.1l5.2,4.8M589.9,197.1l5.2,4.8M590.9,197.1l5.2,4.8M591.9,197.1l5.2,4.8M592.9,197.1l5.2,4.8M593.9,197.1l5.2,4.8M594.9,197.1l5.2,4.8M595.9,197.1l5.2,4.8M596.9,197.1l5.2,4.8M597.9,197.1l5.2,4.8M598.9,197.1l5.2,4.8M599.9,197.1l5.2,4.8M600.9,197.1l5.2,4.8M601.9,197.1l5.2,4.8M602.9,197.1l5.2,4.8M603.9,197.1l5.2,4.8M604.9,197.1l5.2,4.8M605.9,197.1l5.2,4.8M606.9,197.1l5.2,4.8M607.9,197.1l5.2,4.8M608.9,197.1l5.2,4.8M609.9,197.1l5.2,4.8M610.9,197.1l5.2,4.8M611.9,197.1l5.2,4.8M612.9,197.1l5.2,4.8M613.9,197.1l5.2,4.8M614.9,197.1l5.2,4.8M615.9,197.1l5.2,4.8M616.9,197.1l5.2,4.8M617.9,197.1l5.2,4.8M618.9,197.1l5.2,4.8M619.9,197.1l5.2,4.8M620.9,197.1l5.2,4.8M621.9,197.1l5.2,4.8M622.9,197.1l5.2,4.8M623.9,197.1l5.2,4.8M624.9,197.1l5.2,4.8M625.9,197.1l5.2,4.8M626.9,197.1l5.2,4.8M627.9,197.1l5.2,4.8M628.9,197.1l5.2,4.8M629.9,197.1l5.2,4.8M630.9,197.1l5.2,4.8M631.9,197.1l5.2,4.8M632.9,197.1l5.2,4.8M633.9,197.1l5.2,4.8M634.9,197.1l5.2,4.8M635.9,197.1l5.2,4.8M636.9,197.1l5.2,4.8" stroke="#056d68" stroke-width="1.1" fill="none"/>
<path d="M80.5,378.7C88.98,388.04 97.47,397.39 105.95,399.72" stroke="#056d68" stroke-width="1.9" fill="none"/>
</g>
<circle cx="80.5" cy="378.7" r="4.05" fill="#ffffff" stroke="#056d68" stroke-width="1.05"/>
<circle cx="131.4" cy="378.7" r="4.05" fill="#ffffff" stroke="#056d68" stroke-width="1.05"/>
<circle cx="182.3" cy="210.7" r="4.05" fill="#ffffff" stroke="#056d68" stroke-width="1.05"/>
<circle cx="233.2" cy="199.5" r="4.05" fill="#ffffff" stroke="#056d68" stroke-width="1.05"/>
<circle cx="284.1" cy="199.5" r="4.05" fill="#ffffff" stroke="#056d68" stroke-width="1.05"/>
<circle cx="335" cy="199.5" r="4.05" fill="#ffffff" stroke="#056d68" stroke-width="1.05"/>
<circle cx="385.9" cy="199.5" r="4.05" fill="#ffffff" stroke="#056d68" stroke-width="1.05"/>
<circle cx="436.8" cy="199.5" r="4.05" fill="#ffffff" stroke="#056d68" stroke-width="1.05"/>
<circle cx="487.7" cy="199.5" r="4.05" fill="#ffffff" stroke="#056d68" stroke-width="1.05"/>
<circle cx="538.6" cy="199.5" r="4.05" fill="#ffffff" stroke="#056d68" stroke-width="1.05"/>
<circle cx="589.5" cy="199.5" r="4.05" fill="#ffffff" stroke="#056d68" stroke-width="1.05"/>
<circle cx="640.4" cy="199.5" r="4.05" fill="#ffffff" stroke="#056d68" stroke-width="1.05"/>
<rect x="80" y="491" width="15" height="15" rx="2" fill="#006a65"/>
<rect x="80" y="525" width="15" height="15" rx="2" fill="#999999"/>
<text class="lg" x="103.7" y="505">Цены в частных клиниках ~ 250р. (+81.16%)</text>
<text class="lg" x="103.7" y="539">Цены в госклиниках ~ 199р. (-10.76%)</text>
</svg></body></html>
